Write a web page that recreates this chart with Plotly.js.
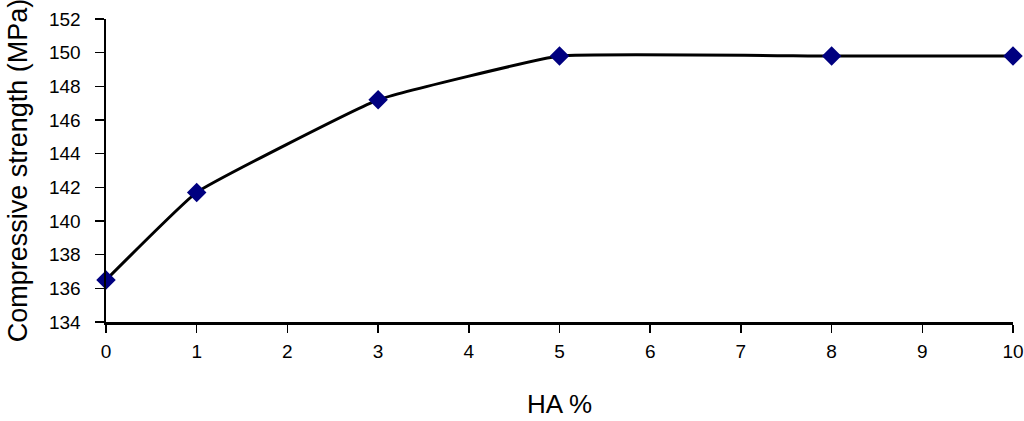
<!DOCTYPE html>
<html><head><meta charset="utf-8">
<script src="https://cdn.plot.ly/plotly-3.0.1.min.js"></script>
<style>html,body{margin:0;padding:0;background:#fff}#chart{width:1024px;height:421px}</style>
</head><body><div id="chart"></div>
<script>
const haPercent = [0, 1, 3, 5, 8, 10];
const strength = [136.5, 141.7, 147.2, 149.8, 149.8, 149.8];
const xTicks = [0,1,2,3,4,5,6,7,8,9,10];
const yTicks = [134,136,138,140,142,144,146,148,150,152];

const trace = {
  x: haPercent, y: strength, type: 'scatter', mode: 'lines+markers',
  line: {color: '#000000', width: 3, shape: 'spline', smoothing: 0.3},
  marker: {symbol: 'diamond', color: '#000080', size: 15, line: {width: 0}},
  cliponaxis: false
};
const fam = 'Liberation Sans, Arial, sans-serif';
const layout = {
  width: 1024, height: 421,
  margin: {l: 106, r: 11, t: 19, b: 99},
  paper_bgcolor: '#fff', plot_bgcolor: '#fff',
  showlegend: false,
  font: {family: fam, color: '#000', size: 19},
  xaxis: {
    range: [0, 10], tickvals: xTicks, ticktext: xTicks.map(String),
    showgrid: false, zeroline: false, showline: true, linecolor: '#000', linewidth: 2.5,
    ticks: 'outside', ticklen: 8, tickwidth: 1.5, tickcolor: '#000',
    ticklabelstandoff: 3,
    tickfont: {size: 19, family: fam, color: '#000'},
    title: {text: 'HA %', font: {size: 26, family: fam, color: '#000'}, standoff: 34}
  },
  yaxis: {
    range: [134, 152], tickvals: yTicks, ticktext: yTicks.map(String),
    showgrid: false, zeroline: false, showline: true, linecolor: '#000', linewidth: 2.5,
    ticks: 'outside', ticklen: 9, tickwidth: 1.5, tickcolor: '#000',
    ticklabelstandoff: 10,
    tickfont: {size: 19, family: fam, color: '#000'},
    title: {text: 'Compressive strength (MPa)', font: {size: 27, family: fam, color: '#000'}, standoff: 14}
  }
};
Plotly.newPlot('chart', [trace], layout, {displayModeBar: false, staticPlot: true});
</script></body></html>
